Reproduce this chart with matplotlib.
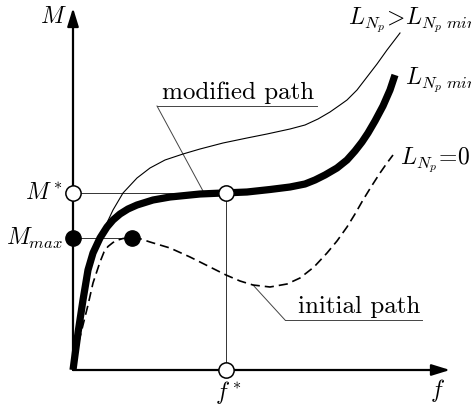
"""Schematic M(f) diagram: initial vs modified path for different L_Np."""
import matplotlib
matplotlib.use("Agg")
import matplotlib.pyplot as plt

plt.rcParams["mathtext.fontset"] = "cm"
plt.rcParams["font.family"] = ["cmr10", "DejaVu Serif"]

# curve L_Np min (thick, modified path)
f_min = [0, 2, 5, 10, 15, 20, 27, 34, 40, 47, 55, 64, 80, 97, 127, 150, 174,
         197, 217, 232, 242, 252, 264, 274, 282, 289, 295, 302, 310, 317, 322]
m_min = [0, 15, 37, 70, 100, 117, 132, 143, 150, 156, 161, 165, 170, 173, 176,
         177, 178, 180.5, 183, 186, 190, 195, 202, 210, 219, 228, 237, 249, 264,
         280, 295]

# curve L_Np > L_Np min (thin)
f_big = [0, 2, 5, 9, 14, 20, 27, 32, 40, 50, 64, 77, 92, 110, 127, 150, 174,
         194, 217, 232, 245, 257, 267, 274, 284, 294, 304, 314, 327]
m_big = [0, 18, 40, 65, 90, 112, 130, 143, 160, 177, 192, 202, 210, 216, 221,
         227, 232, 236, 241, 245, 251, 258, 265, 270, 280, 293, 306, 320, 337]

# curve L_Np = 0 (dashed, initial path)
f_zero = [0, 5, 10, 15, 20, 27, 31, 35, 40, 45, 50, 59, 68, 77, 97, 117, 137,
          153, 167, 180, 197, 214, 227, 241, 254, 264, 274, 282, 290, 298, 307,
          314, 320]
m_zero = [0, 25, 45, 65, 87, 108, 118, 123.5, 127.5, 130, 131.5, 132, 131, 128,
          122, 113, 103, 95, 89, 85, 83, 86, 92, 103, 117, 129, 143, 156, 170,
          183, 197, 207, 215]

M_STAR = 177
M_MAX = 132
F_STAR = 153
F_PEAK = 59

fig = plt.figure(figsize=(4.71, 4.05), dpi=100)
ax = fig.add_axes([0, 0, 1, 1])
ax.set_xlim(-73, 398)
ax.set_ylim(-35, 370)
ax.axis("off")

guide = dict(color="#333333", lw=0.7, zorder=1)
ax.plot([0, F_STAR], [M_STAR, M_STAR], **guide)
ax.plot([F_STAR, F_STAR], [M_STAR, 0], **guide)
ax.plot([0, F_PEAK], [M_MAX, M_MAX], **guide)

# axes with arrows
arrow = dict(arrowstyle="-|>,head_length=0.55,head_width=0.17", lw=1.6,
             color="k", mutation_scale=20, shrinkA=0, shrinkB=0)
ax.annotate("", xy=(0, 362), xytext=(0, 0), arrowprops=arrow, zorder=3)
ax.annotate("", xy=(377, 0), xytext=(0, 0), arrowprops=arrow, zorder=3)

ax.plot(f_zero, m_zero, color="k", lw=1.2, dashes=(5.5, 3), zorder=2)
ax.plot(f_big, m_big, color="k", lw=0.8, solid_joinstyle="round", zorder=2)
ax.plot(f_min, m_min, color="k", lw=5.2, solid_capstyle="butt",
        solid_joinstyle="round", zorder=2)

open_pt = dict(marker="o", ms=11, mfc="white", mec="k", mew=1.1, ls="none", zorder=5)
ax.plot([0, F_STAR, F_STAR], [M_STAR, M_STAR, 0], **open_pt)
ax.plot([0, F_PEAK], [M_MAX, M_MAX], marker="o", ms=11, color="k", ls="none", zorder=5)

# leader lines with labels
lead = dict(color="#444444", lw=0.7, zorder=1)
ax.plot([84, 244], [264, 264], **lead)
ax.plot([84, 130], [264, 179], **lead)
ax.text(165, 271, "modified path", fontsize=18, ha="center", va="baseline")
ax.plot([212, 349], [50, 50], **lead)
ax.plot([212, 180], [50, 85], **lead)
ax.text(286, 57, "initial path", fontsize=18, ha="center", va="baseline")

fs = 17
ax.text(-20, 353, r"$M$", fontsize=fs, ha="center", va="center")
ax.text(-10, 177, r"$M^*$", fontsize=fs, ha="right", va="center")
ax.text(-10, 132, r"$M_{max}$", fontsize=fs, ha="right", va="center")
ax.text(155, -22, r"$f^*$", fontsize=fs, ha="center", va="center")
ax.text(365, -20, r"$f$", fontsize=fs, ha="center", va="center")
ax.text(275, 350, r"$L_{N_p}\!>\!L_{N_p\ min}$", fontsize=fs, ha="left", va="center")
ax.text(332, 290, r"$L_{N_p\ min}$", fontsize=fs, ha="left", va="center")
ax.text(327, 210, r"$L_{N_p}\!=\!0$", fontsize=fs, ha="left", va="center")

fig.savefig("out.png", dpi=100)
